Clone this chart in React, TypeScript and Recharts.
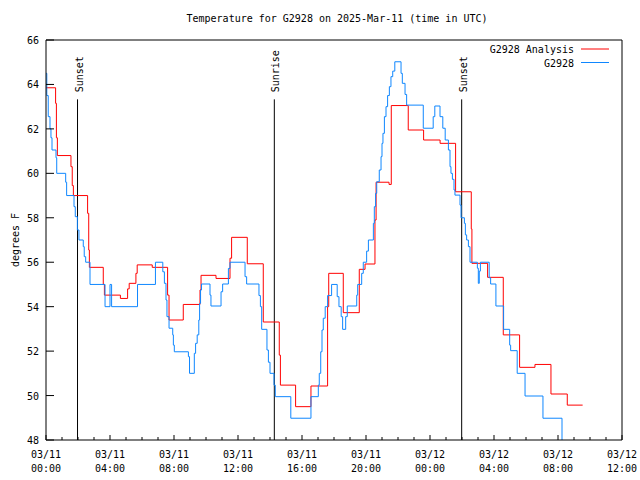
import React from 'react';
import { LineChart, Line, XAxis, YAxis, ReferenceLine, Legend } from 'recharts';

const FONT = '"DejaVu Sans Mono", "Liberation Mono", monospace';

// hours after 03/11 00:00 UTC
const analysisHours = [0, 0.6, 0.65, 0.71, 1.56, 1.64, 1.71, 2.6, 2.67, 2.71, 3.58, 3.65, 4.65, 5.1, 5.2, 5.62, 5.7, 6.64, 7.6, 7.69, 8.58, 9.625, 9.69, 10.625, 11.5, 11.6, 12.58, 13.58, 14.58, 14.65, 15.6, 16.56, 17.6, 17.67, 18.58, 19.58, 19.94, 20.56, 20.63, 21.44, 21.58, 22.64, 23.6, 24.63, 25.6, 26.58, 26.62, 27.6, 28.58, 29.6, 30.56, 31.56, 32.58, 33.54];
const analysisTemps = [63.85, 63.15, 61.6, 60.8, 60.3, 59.45, 59.0, 58.2, 56.55, 55.77, 55.0, 54.52, 54.37, 54.8, 55.05, 55.5, 55.88, 55.77, 54.52, 53.4, 54.1, 54.75, 55.41, 55.27, 56.18, 57.12, 55.93, 53.31, 51.82, 50.47, 49.5, 50.43, 54.0, 55.5, 53.73, 55.68, 55.92, 57.9, 59.6, 59.5, 63.05, 61.95, 61.5, 61.35, 59.17, 57.5, 55.95, 55.32, 52.73, 51.27, 51.4, 50.07, 49.57, 49.57];

const stationHours = [0, 0.05, 0.14, 0.25, 0.31, 0.375, 0.625, 0.67, 1.23, 1.29, 1.75, 1.83, 1.96, 2.06, 2.33, 2.39, 2.48, 2.75, 3.69, 4.0, 4.1, 5.72, 6.84, 7.3, 7.4, 7.5, 7.56, 7.69, 7.92, 7.96, 8.02, 8.9, 8.97, 9.27, 9.35, 9.45, 9.55, 9.6, 9.66, 9.72, 10.25, 10.31, 10.94, 11.04, 11.4, 11.5, 12.44, 12.54, 13.31, 13.4, 13.48, 13.81, 13.9, 14.0, 14.25, 14.33, 15.3, 16.56, 17.02, 17.08, 17.17, 17.25, 17.33, 17.45, 17.6, 17.85, 18.2, 18.31, 18.45, 18.54, 18.73, 18.83, 19.42, 19.48, 19.73, 19.83, 20.04, 20.15, 20.46, 20.52, 20.6, 20.67, 20.83, 20.94, 21.0, 21.06, 21.15, 21.25, 21.35, 21.46, 21.56, 21.67, 21.8, 22.19, 22.27, 22.44, 22.54, 23.58, 24.2, 24.3, 24.625, 24.8, 24.95, 25.15, 25.25, 25.31, 25.4, 25.5, 25.56, 25.875, 25.94, 26.15, 26.21, 26.29, 26.4, 26.5, 26.96, 27.02, 27.08, 27.15, 27.7, 27.79, 28.12, 28.6, 28.98, 29.04, 29.45, 29.94, 31.06, 32.25];
const stationTemps = [64.5, 63.5, 62.55, 62.0, 61.6, 61.05, 60.7, 60.0, 59.6, 59.0, 58.5, 58.05, 57.45, 57.0, 56.7, 56.25, 56.0, 55.0, 54.0, 55.0, 54.0, 55.0, 56.0, 55.57, 55.05, 54.3, 53.55, 53.03, 52.73, 52.27, 51.97, 51.75, 51.0, 51.9, 52.35, 52.73, 53.4, 54.15, 54.75, 55.02, 54.52, 54.03, 54.67, 55.02, 55.72, 56.0, 55.35, 55.02, 54.5, 54.0, 52.98, 52.05, 51.5, 51.0, 50.47, 49.95, 48.98, 49.95, 50.47, 51.0, 51.97, 52.95, 53.48, 54.0, 54.5, 55.0, 54.45, 54.0, 53.55, 52.98, 53.55, 54.03, 54.52, 55.0, 55.5, 56.0, 56.5, 57.0, 57.75, 58.5, 59.1, 59.62, 60.15, 60.75, 61.35, 61.8, 62.55, 63.0, 63.5, 63.9, 64.35, 64.6, 65.02, 64.5, 64.05, 63.55, 63.07, 62.03, 62.55, 63.03, 62.55, 62.03, 61.5, 61.05, 60.3, 60.0, 59.73, 59.25, 59.02, 58.57, 58.0, 57.75, 57.23, 57.0, 56.7, 56.0, 55.73, 55.05, 55.6, 56.0, 55.3, 55.02, 54.03, 52.98, 52.27, 52.02, 51.0, 49.98, 48.98, 47.5];

const seriesNames = ['G2928 Analysis', 'G2928'];

const sunEventNames = ['Sunset', 'Sunrise', 'Sunset'];
const sunEventHours = [1.97, 14.27, 25.98];

const majorHours = [0, 4, 8, 12, 16, 20, 24, 28, 32, 36];
const xDateLabels = ['03/11', '03/11', '03/11', '03/11', '03/11', '03/11', '03/12', '03/12', '03/12', '03/12'];
const xTimeLabels = ['00:00', '04:00', '08:00', '12:00', '16:00', '20:00', '00:00', '04:00', '08:00', '12:00'];
const hourTicks = [0, 1, 2, 3, 4, 5, 6, 7, 8, 9, 10, 11, 12, 13, 14, 15, 16, 17, 18, 19, 20, 21, 22, 23, 24, 25, 26, 27, 28, 29, 30, 31, 32, 33, 34, 35, 36];
const yTicks = [48, 50, 52, 54, 56, 58, 60, 62, 64, 66];

const analysis = analysisHours.map((h, i) => ({ h, temp: analysisTemps[i] }));
const station = stationHours.map((h, i) => ({ h, temp: stationTemps[i] }));

const BottomTick = ({ x, y, payload }: any) => {
  const idx = majorHours.indexOf(payload.value);
  return (
    <g>
      <line x1={x} x2={x} y1={y} y2={y - (idx >= 0 ? 5 : 3)} stroke="#000" />
      {idx >= 0 && (
        <text x={x} y={y + 18} textAnchor="middle" fontFamily={FONT} fontSize={10} fill="#000">
          <tspan x={x}>{xDateLabels[idx]}</tspan>
          <tspan x={x} dy={14}>{xTimeLabels[idx]}</tspan>
        </text>
      )}
    </g>
  );
};

const TopTick = ({ x, y, payload }: any) => {
  const major = majorHours.indexOf(payload.value) >= 0;
  return <line x1={x} x2={x} y1={y} y2={y + (major ? 5 : 3)} stroke="#000" />;
};

const LeftTick = ({ x, y, payload }: any) => (
  <g>
    <line x1={x} x2={x + 8} y1={y} y2={y} stroke="#000" />
    <text x={x - 7} y={y + 4} textAnchor="end" fontFamily={FONT} fontSize={10} fill="#000">
      {payload.value}
    </text>
  </g>
);

const RightTick = ({ x, y }: any) => <line x1={x} x2={x - 8} y1={y} y2={y} stroke="#000" />;

const SunLabel = ({ viewBox, name }: any) => {
  const tx = viewBox.x + 5;
  const ty = viewBox.y - 7;
  return (
    <text x={tx} y={ty} transform={`rotate(-90, ${tx}, ${ty})`} textAnchor="start" fontFamily={FONT} fontSize={10} fill="#000">
      {name}
    </text>
  );
};

const YLabel = ({ viewBox }: any) => {
  const tx = viewBox.x + 19;
  const ty = viewBox.y + viewBox.height / 2;
  return (
    <text x={tx} y={ty} transform={`rotate(-90, ${tx}, ${ty})`} textAnchor="middle" fontFamily={FONT} fontSize={10} fill="#000">
      degrees F
    </text>
  );
};

const LegendBox = ({ payload }: any) => {
  const items = [...(payload || [])].sort(
    (a: any, b: any) => seriesNames.indexOf(a.value) - seriesNames.indexOf(b.value)
  );
  return (
    <svg width={140} height={32}>
      {items.map((p: any, i: number) => (
        <g key={p.value}>
          <text x={94} y={13 + i * 13.5} textAnchor="end" fontFamily={FONT} fontSize={10} fill="#000">
            {p.value}
          </text>
          <line x1={101} x2={129} y1={9 + i * 13.5} y2={9 + i * 13.5} stroke={p.color} />
        </g>
      ))}
    </svg>
  );
};

export default function App() {
  return (
    <div style={{ position: 'absolute', left: 0, top: 0, width: 640, height: 480, background: '#fff' }}>
      <div
        style={{
          position: 'absolute', left: 0, top: 13, width: 674, textAlign: 'center',
          fontFamily: FONT, fontSize: 10, lineHeight: '12px', color: '#000',
        }}
      >
        Temperature for G2928 on 2025-Mar-11 (time in UTC)
      </div>
      <LineChart width={640} height={480} margin={{ top: 0, right: 0, bottom: 0, left: 0 }}>
        <XAxis
          dataKey="h" type="number" domain={[0, 36]} ticks={hourTicks} interval={0}
          height={40} tickSize={0} tickMargin={0} tickLine={false} tick={<BottomTick />}
          axisLine={{ stroke: '#000' }} allowDataOverflow
        />
        <XAxis
          xAxisId="top" orientation="top" dataKey="h" type="number" domain={[0, 36]} ticks={hourTicks}
          interval={0} height={40} tickSize={0} tickMargin={0} tickLine={false} tick={<TopTick />}
          axisLine={{ stroke: '#000' }}
        />
        <YAxis
          type="number" domain={[48, 66]} ticks={yTicks} interval={0} width={46} tickSize={0} tickMargin={0}
          tickLine={false} tick={<LeftTick />} axisLine={{ stroke: '#000' }} allowDataOverflow
          label={<YLabel />}
        />
        <YAxis
          yAxisId="right" orientation="right" type="number" domain={[48, 66]} ticks={yTicks} interval={0}
          width={18} tickSize={0} tickMargin={0} tickLine={false} tick={<RightTick />} axisLine={{ stroke: '#000' }}
        />
        {sunEventHours.map((h, i) => (
          <ReferenceLine
            key={i}
            segment={[{ x: h, y: 63.33 }, { x: h, y: 48 }]}
            stroke="#000"
            label={<SunLabel name={sunEventNames[i]} />}
          />
        ))}
        <Line
          data={analysis} dataKey="temp" name={seriesNames[0]} type="stepAfter" stroke="#ff0000"
          strokeWidth={1} dot={false} activeDot={false} isAnimationActive={false}
        />
        <Line
          data={station} dataKey="temp" name={seriesNames[1]} type="stepAfter" stroke="#0f87ff"
          strokeWidth={1} dot={false} activeDot={false} isAnimationActive={false}
        />
        <Legend
          layout="horizontal" align="center" verticalAlign="middle"
          wrapperStyle={{ left: 480, top: 40, width: 140, height: 32 }}
          content={<LegendBox />}
        />
      </LineChart>
    </div>
  );
}
